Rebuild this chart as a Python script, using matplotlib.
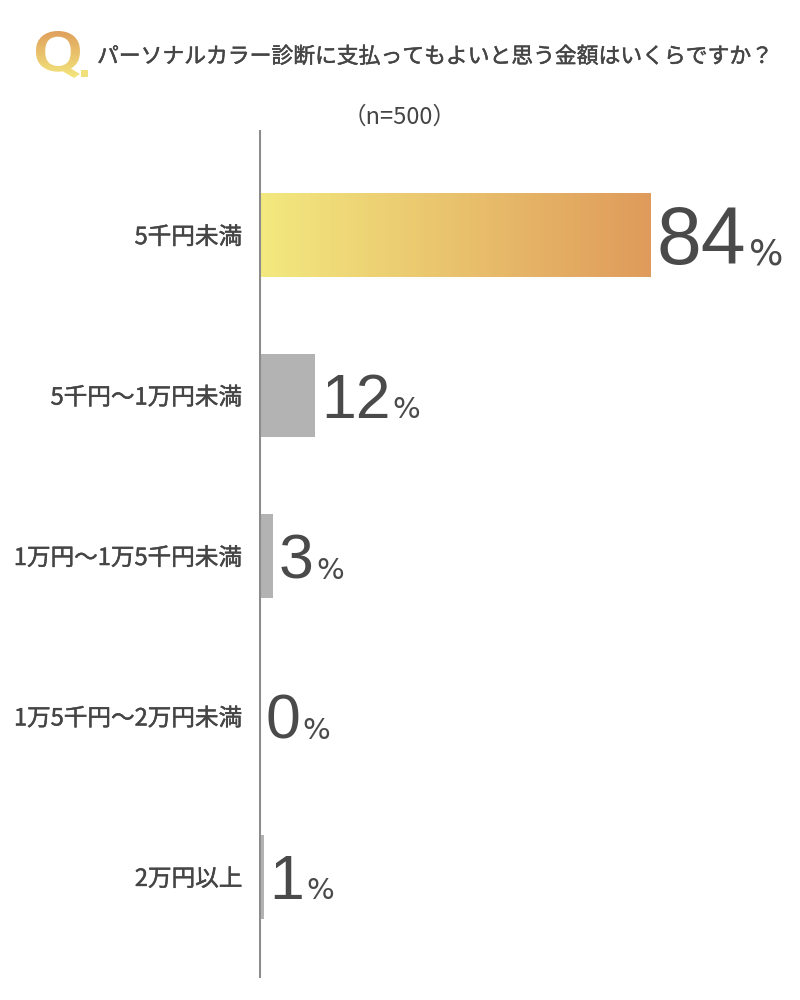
import matplotlib
matplotlib.use('Agg')
import matplotlib.pyplot as plt
import matplotlib.patheffects as pe
import numpy as np
from matplotlib.textpath import TextPath
from matplotlib.patches import PathPatch, Rectangle
from matplotlib.font_manager import FontProperties
from matplotlib.colors import LinearSegmentedColormap
from matplotlib.transforms import IdentityTransform, Affine2D

plt.rcParams['font.family'] = ['Noto Sans CJK JP', 'DejaVu Sans']

# データ
categories = ['5千円未満', '5千円〜1万円未満', '1万円〜1万5千円未満',
              '1万5千円〜2万円未満', '2万円以上']
values = [84, 12, 3, 0, 1]
title = 'パーソナルカラー診断に支払ってもよいと思う金額はいくらですか？'
sample = '（n=500）'

text_color = '#454545'
num_color = '#4a4a4a'
bar_gray = '#b3b3b3'
axis_gray = '#8c8c8c'
grad = LinearSegmentedColormap.from_list('grad', ['#f3e97f', '#df9b5b'])
qgrad = LinearSegmentedColormap.from_list('qgrad', ['#e0a05c', '#f3e67d'])
medium = [pe.withStroke(linewidth=0.35, foreground=text_color)]

fig = plt.figure(figsize=(8, 10), dpi=100)

# 背景用 (ピクセル座標)
bg = fig.add_axes([0, 0, 1, 1], zorder=0)
bg.set_xlim(0, 800)
bg.set_ylim(1000, 0)
bg.axis('off')

# Q. のロゴ
qpath = TextPath((0, 0), 'Q', size=60, prop=FontProperties(family='Roboto', weight='medium'))
ext = qpath.get_extents()
x0, x1, y0, y1 = 36, 80, 31, 78
tr = Affine2D().translate(-ext.x0, -ext.y1).scale((x1 - x0) / ext.width, -(y1 - y0) / ext.height).translate(x0, y0)
qpatch = PathPatch(tr.transform_path(qpath), facecolor='none', edgecolor='none', transform=bg.transData)
bg.add_patch(qpatch)
im = bg.imshow(np.linspace(0, 1, 100).reshape(-1, 1), cmap=qgrad, aspect='auto',
               extent=(x0, x1, y1, y0), zorder=2)
im.set_clip_path(qpatch)
bg.add_patch(Rectangle((81, 70), 7, 7, facecolor='#f1df7a', edgecolor='none'))
bg.set_xlim(0, 800)
bg.set_ylim(1000, 0)

bg.text(97, 57, title, fontsize=15.7, color=text_color, va='center', ha='left',
        path_effects=medium)
bg.text(400, 117, sample, fontsize=17, color=text_color, va='center', ha='center')

# 棒グラフ
ax = fig.add_axes([259 / 800, 0.022, 392 / 800 / 0.84, 0.848], zorder=1)
ax.patch.set_alpha(0)
ypos = np.arange(len(values))
bars = ax.barh(ypos, values, height=0.52, color=bar_gray)

# 1位はグラデーション
b0 = bars[0]
b0.set_facecolor('none')
ax.imshow(np.linspace(0, 1, 200).reshape(1, -1), cmap=grad, aspect='auto',
          extent=(0, values[0], ypos[0] + 0.26, ypos[0] - 0.26), zorder=2)

ax.set_xlim(0, 100)
ax.set_ylim(4.63, -0.655)
ax.axvline(0, color=axis_gray, lw=2.2, zorder=3)
for s in ax.spines.values():
    s.set_visible(False)
ax.set_xticks([])
ax.set_yticks(ypos, categories)
ax.tick_params(axis='y', length=0, pad=12, labelsize=17, labelcolor=text_color)
for lbl in ax.get_yticklabels():
    lbl.set_path_effects(medium)

# 数値ラベル
renderer = fig.canvas.get_renderer()
for i, v in enumerate(values):
    bx, by = ax.transData.transform((v, ypos[i]))
    if i == 0:
        nsize, psize, cap = 58, 26, 58
    else:
        nsize, psize, cap = 45, 21, 45
    base = by - cap / 2
    t = fig.text(bx + 6, base, str(v), fontsize=nsize, color=num_color,
                 family='Liberation Sans', ha='left', va='baseline',
                 transform=IdentityTransform())
    ex = t.get_window_extent(renderer)
    fig.text(ex.x1 + 2, base, '%', fontsize=psize, color=num_color,
             family='Liberation Sans Narrow', ha='left', va='baseline',
             transform=IdentityTransform())

fig.savefig('out.png', dpi=100)
